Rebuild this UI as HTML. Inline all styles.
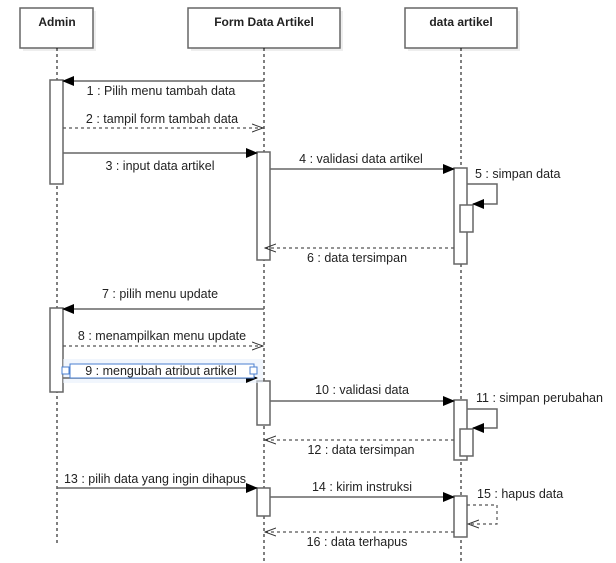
<!DOCTYPE html>
<html><head><style>body{margin:0;background:#fff}svg{display:block}</style></head><body>
<svg width="616" height="563" xmlns="http://www.w3.org/2000/svg" font-family="Liberation Sans, sans-serif" font-size="12.5" fill="#222">
<defs>
<marker id="f" markerWidth="12" markerHeight="10" refX="11" refY="5" orient="auto" markerUnits="userSpaceOnUse"><path d="M0,0 L12,5 L0,10 Z" fill="#000"/></marker>
<marker id="o" markerWidth="12" markerHeight="10" refX="11" refY="5" orient="auto" markerUnits="userSpaceOnUse"><path d="M0,1 L11,5 L0,9" fill="none" stroke="#333" stroke-width="1"/></marker>
</defs>
<rect x="23" y="11" width="73" height="40" fill="#eee"/>
<rect x="191" y="11" width="152" height="40" fill="#eee"/>
<rect x="408" y="11" width="112" height="40" fill="#eee"/>
<rect x="20" y="8" width="73" height="40" fill="#fff" stroke="#666" stroke-width="1.5"/>
<rect x="188" y="8" width="152" height="40" fill="#fff" stroke="#666" stroke-width="1.5"/>
<rect x="405" y="8" width="112" height="40" fill="#fff" stroke="#666" stroke-width="1.5"/>
<g font-weight="bold" text-anchor="middle" font-size="12"><text x="57" y="26">Admin</text><text x="264" y="26">Form Data Artikel</text><text x="461" y="26">data artikel</text></g>
<g stroke="#000" stroke-dasharray="3,3" stroke-width="1">
<line x1="57" y1="48" x2="57" y2="545"/><line x1="264" y1="48" x2="264" y2="563"/><line x1="461" y1="48" x2="461" y2="563"/>
</g>
<g fill="#fff" stroke="#666" stroke-width="1.5">
<rect x="50" y="80" width="13" height="104"/><rect x="50" y="308" width="13" height="84"/>
<rect x="257" y="152" width="13" height="108"/><rect x="257" y="381" width="13" height="44"/><rect x="257" y="488" width="13" height="28"/>
<rect x="454" y="168" width="13" height="96"/><rect x="454" y="400" width="13" height="60"/><rect x="454" y="496" width="13" height="41"/>
<rect x="460" y="205" width="13" height="27"/><rect x="460" y="429" width="13" height="27"/>
</g>
<rect x="63" y="359" width="200" height="24" fill="#e8f0fb" opacity="0.6"/>
<g stroke="#666" stroke-width="1.5" fill="none">
<line x1="264" y1="81" x2="63" y2="81" marker-end="url(#f)"/>
<line x1="63" y1="153" x2="257" y2="153" marker-end="url(#f)"/>
<line x1="270" y1="169" x2="454" y2="169" marker-end="url(#f)"/>
<polyline points="467,184 497,184 497,204 473,204" marker-end="url(#f)"/>
<line x1="264" y1="309" x2="63" y2="309" marker-end="url(#f)"/>
<line x1="63" y1="378" x2="257" y2="378" marker-end="url(#f)"/>
<line x1="270" y1="401" x2="454" y2="401" marker-end="url(#f)"/>
<polyline points="467,409 497,409 497,428 473,428" marker-end="url(#f)"/>
<line x1="57" y1="488" x2="257" y2="488" marker-end="url(#f)"/>
<line x1="270" y1="497" x2="454" y2="497" marker-end="url(#f)"/>
</g>
<g stroke="#555" stroke-width="1.2" fill="none" stroke-dasharray="3,3">
<line x1="63" y1="128" x2="263" y2="128" marker-end="url(#o)"/>
<line x1="454" y1="248" x2="265" y2="248" marker-end="url(#o)"/>
<line x1="63" y1="346" x2="263" y2="346" marker-end="url(#o)"/>
<line x1="454" y1="440" x2="265" y2="440" marker-end="url(#o)"/>
<polyline points="467,505 497,505 497,524 468,524" marker-end="url(#o)"/>
<line x1="454" y1="532" x2="265" y2="532" marker-end="url(#o)"/>
</g>
<rect x="70" y="364" width="184" height="14" fill="#fff" stroke="#4a7fd0" stroke-width="1"/>
<rect x="62" y="367" width="7" height="7" fill="#fff" stroke="#4a7fd0"/>
<rect x="250" y="367" width="7" height="7" fill="#fff" stroke="#4a7fd0"/>
<g text-anchor="middle">
<text x="161" y="95">1 : Pilih menu tambah data</text>
<text x="162" y="123">2 : tampil form tambah data</text>
<text x="160" y="170">3 : input data artikel</text>
<text x="361" y="163">4 : validasi data artikel</text>
<text x="357" y="262">6 : data tersimpan</text>
<text x="160" y="298">7 : pilih menu update</text>
<text x="162" y="340">8 : menampilkan menu update</text>
<text x="161" y="375">9 : mengubah atribut artikel</text>
<text x="362" y="394">10 : validasi data</text>
<text x="361" y="454">12 : data tersimpan</text>
<text x="155" y="483">13 : pilih data yang ingin dihapus</text>
<text x="362" y="491">14 : kirim instruksi</text>
<text x="357" y="546">16 : data terhapus</text>
</g>
<text x="475" y="178">5 : simpan data</text>
<text x="476" y="402">11 : simpan perubahan</text>
<text x="477" y="498">15 : hapus data</text>
</svg>
</body></html>
